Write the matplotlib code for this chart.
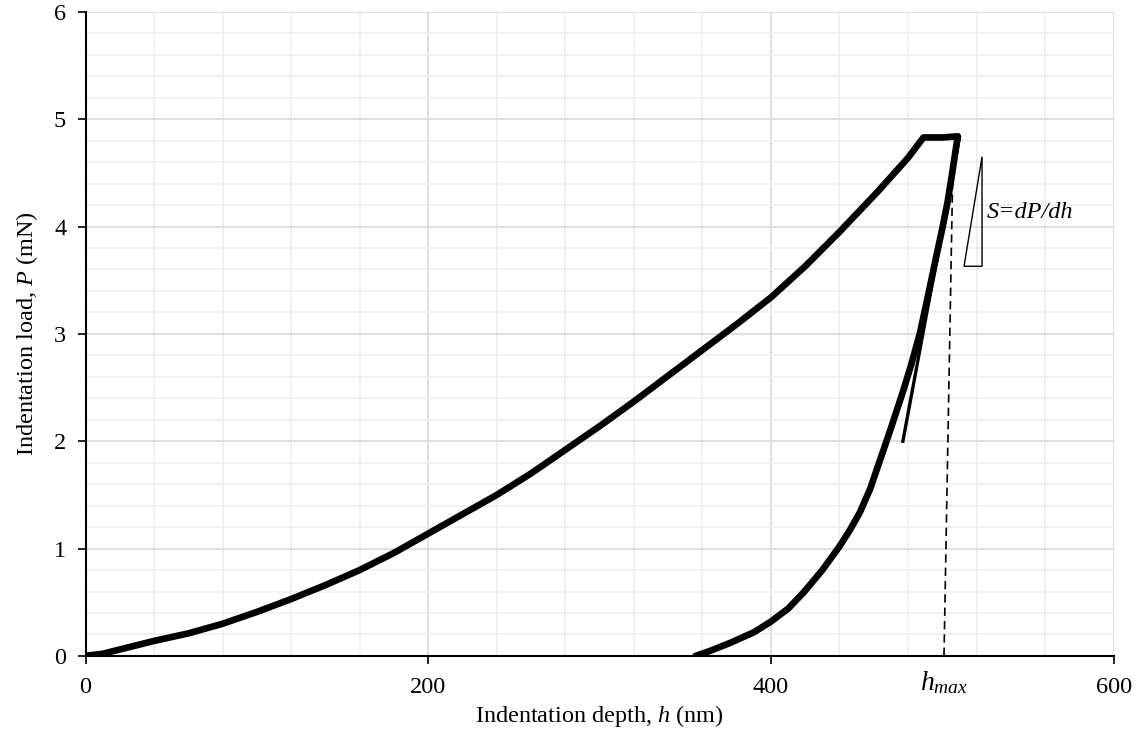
import numpy as np
import matplotlib
matplotlib.use('Agg')
import matplotlib.pyplot as plt
from matplotlib.ticker import MultipleLocator

# Datos (h en nm, P en mN)
h_carga = [0, 10, 20, 40, 60, 80, 100, 120, 140, 160, 180, 200, 220, 240, 260, 280,
           300, 320, 340, 360, 380, 400, 420, 440, 462, 480, 489, 500, 509]
p_carga = [0, 0.02, 0.06, 0.14, 0.21, 0.30, 0.41, 0.53, 0.66, 0.80, 0.96, 1.14, 1.32, 1.50,
           1.70, 1.92, 2.14, 2.37, 2.61, 2.85, 3.09, 3.34, 3.63, 3.95, 4.32, 4.64, 4.83, 4.83, 4.84]

h_descarga = [509, 506, 503, 500, 497, 492, 487, 482, 477, 470, 464, 458, 452, 446,
              440, 430, 419, 410, 400, 390, 376, 365, 356]
p_descarga = [4.84, 4.52, 4.22, 3.98, 3.76, 3.38, 3.01, 2.72, 2.46, 2.12, 1.84, 1.56, 1.34,
              1.17, 1.02, 0.80, 0.59, 0.44, 0.32, 0.22, 0.12, 0.05, 0]

h_tangente = [477, 510]
p_tangente = [2.0, 4.83]

h_max_linea = [501, 506]
p_max_linea = [0, 4.4]

h_triangulo = [512.7, 523.2, 523.2]
p_triangulo = [3.63, 3.63, 4.65]

plt.rcParams['font.family'] = ['Liberation Serif', 'DejaVu Serif']
plt.rcParams['font.size'] = 17.5
plt.rcParams['mathtext.fontset'] = 'custom'
plt.rcParams['mathtext.rm'] = 'Liberation Serif'
plt.rcParams['mathtext.it'] = 'Liberation Serif:italic'

fig = plt.figure(figsize=(11.41, 7.42), dpi=100)
ax = fig.add_axes([0.075, 0.116, 0.901, 0.868])

ax.plot(h_carga, p_carga, color='black', linewidth=4.8, solid_capstyle='round',
        solid_joinstyle='round', zorder=3)
ax.plot(h_descarga, p_descarga, color='black', linewidth=4.8, solid_capstyle='round',
        solid_joinstyle='round', zorder=3)
ax.plot(h_tangente, p_tangente, color='black', linewidth=2.4, zorder=4)
ax.plot(h_max_linea, p_max_linea, color='black', linewidth=1.2, linestyle=(0, (5, 3)), zorder=4)
ax.fill(h_triangulo, p_triangulo, facecolor='none', edgecolor='black', linewidth=1.0, zorder=4)

ax.text(526, 4.13, 'S=dP/dh', fontstyle='italic', fontsize=17.5, va='center', ha='left')
ax.text(501, -0.12, r'$h_{max}$', fontsize=20, va='top', ha='center', clip_on=False)

ax.set_xlim(0, 600)
ax.set_ylim(0, 6)
ax.xaxis.set_major_locator(MultipleLocator(200))
ax.xaxis.set_minor_locator(MultipleLocator(40))
ax.yaxis.set_major_locator(MultipleLocator(1))
ax.yaxis.set_minor_locator(MultipleLocator(0.2))

ax.grid(True, which='major', color='#d9d9d9', linewidth=1.2)
ax.grid(True, which='minor', color='#eeeeee', linewidth=1.2)
ax.set_axisbelow(True)

ax.spines['top'].set_visible(False)
ax.spines['right'].set_visible(False)
ax.spines['left'].set_linewidth(1.5)
ax.spines['bottom'].set_linewidth(1.5)
ax.tick_params(which='major', direction='out', length=6, width=1.2, labelsize=17.5)
ax.tick_params(axis='x', which='major', pad=9)
ax.tick_params(axis='y', which='major', pad=8)
ax.tick_params(which='minor', length=0)

ax.set_xlabel(r'Indentation depth, $h$ (nm)', fontsize=17.5, labelpad=4)
ax.set_ylabel(r'Indentation load, $P$ (mN)', fontsize=17.5, labelpad=10)

fig.savefig('out.png', dpi=100)
